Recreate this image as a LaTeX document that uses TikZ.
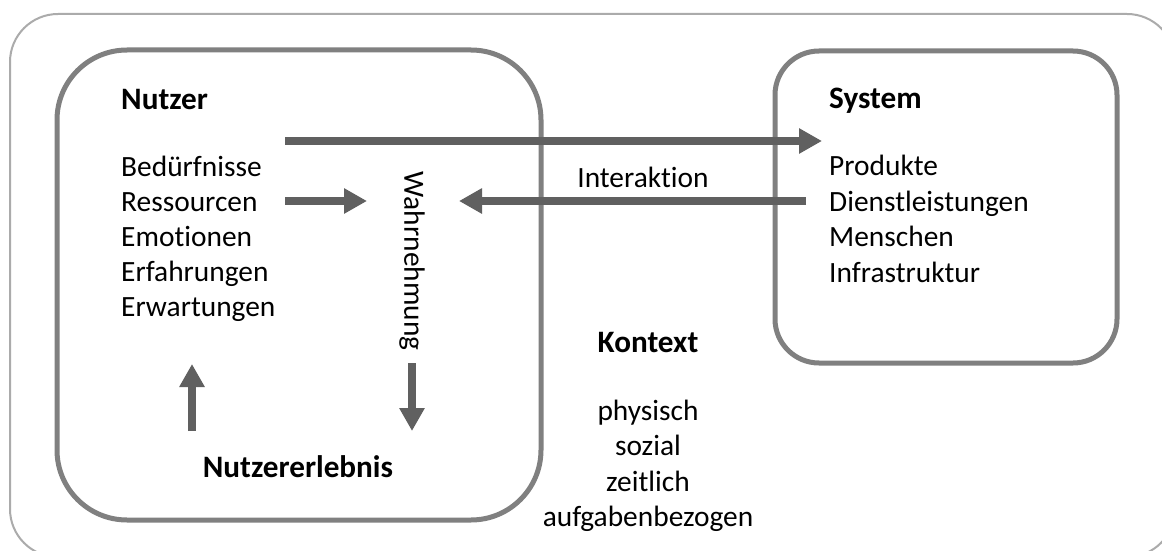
\documentclass[tikz,border=0pt]{standalone}
\usepackage{fontspec}
\setmainfont{Carlito}[Ligatures=NoCommon]
\usetikzlibrary{arrows.meta}
\definecolor{outerline}{HTML}{ABABAB}
\definecolor{boxline}{HTML}{808080}
\definecolor{arrowgray}{HTML}{606060}
\tikzset{
  txt/.style={inner sep=0pt, font=\fontsize{29.4}{35}\selectfont, text=black},
  btxt/.style={txt, font=\fontsize{31.2}{37}\selectfont\bfseries},
  bigarrow/.style={draw=arrowgray, line width=8pt, -{Triangle[length=23pt,width=24pt]}},
  userbox/.style={draw=boxline, line width=5pt, rounded corners=70pt},
  sysbox/.style={draw=boxline, line width=5pt, rounded corners=44pt},
  outerbox/.style={draw=outerline, line width=2pt, rounded corners=48pt},
}
\begin{document}
\begin{tikzpicture}[x=1pt,y=-1pt]
\useasboundingbox (0,0) rectangle (1162,551);
\clip (0,0) rectangle (1162,551);
\draw[outerbox] (10,14) rectangle (1175,557);
\draw[userbox] (57,50) rectangle (541,520);
\draw[sysbox] (775,51) rectangle (1117,363);

% Nutzer
\node[btxt, anchor=base west] (nutzer) at (121,110) {Nutzer};
\node[txt, anchor=base west] (n1) at (121,176) {Bedürfnisse};
\node[txt, anchor=base west] (n2) at (121,211) {Ressourcen};
\node[txt, anchor=base west] (n3) at (121,246) {Emotionen};
\node[txt, anchor=base west] (n4) at (121,281) {Erfahrungen};
\node[txt, anchor=base west] (n5) at (121,316) {Erwartungen};
\node[btxt, anchor=base] (erlebnis) at (298,477) {Nutzererlebnis};

% System
\node[btxt, anchor=base west] (system) at (829,108) {System};
\node[txt, anchor=base west] (s1) at (829,175) {Produkte};
\node[txt, anchor=base west] (s2) at (829,211) {Dienstleistungen};
\node[txt, anchor=base west] (s3) at (829,246) {Menschen};
\node[txt, anchor=base west] (s4) at (829,282) {Infrastruktur};

% Kontext
\node[btxt, anchor=base] (kontext) at (648,352) {Kontext};
\node[txt, anchor=base] (k1) at (648,420) {physisch};
\node[txt, anchor=base] (k2) at (648,455) {sozial};
\node[txt, anchor=base] (k3) at (648,491) {zeitlich};
\node[txt, anchor=base] (k4) at (648,526) {aufgabenbezogen};

\node[txt, anchor=base] (interaktion) at (643,187) {Interaktion};
\node[txt, rotate=-90] (wahr) at (412,261) {Wahrnehmung};

% arrow end points
\coordinate (a1s) at (285,141);
\coordinate (a1e) at (822,141);
\coordinate (a2s) at (285,201);
\coordinate (a2e) at (367,201);
\coordinate (a3s) at (806,201);
\coordinate (a3e) at (459,201);
\coordinate (a4s) at (192,431);
\coordinate (a4e) at (192,364);
\coordinate (a5s) at (412,363);
\coordinate (a5e) at (412,431);

\draw[bigarrow] (a1s) -- (a1e);
\draw[bigarrow] (a2s) -- (a2e);
\draw[bigarrow] (a3s) -- (a3e);
\draw[bigarrow] (a4s) -- (a4e);
\draw[bigarrow] (a5s) -- (a5e);
\end{tikzpicture}
\end{document}
